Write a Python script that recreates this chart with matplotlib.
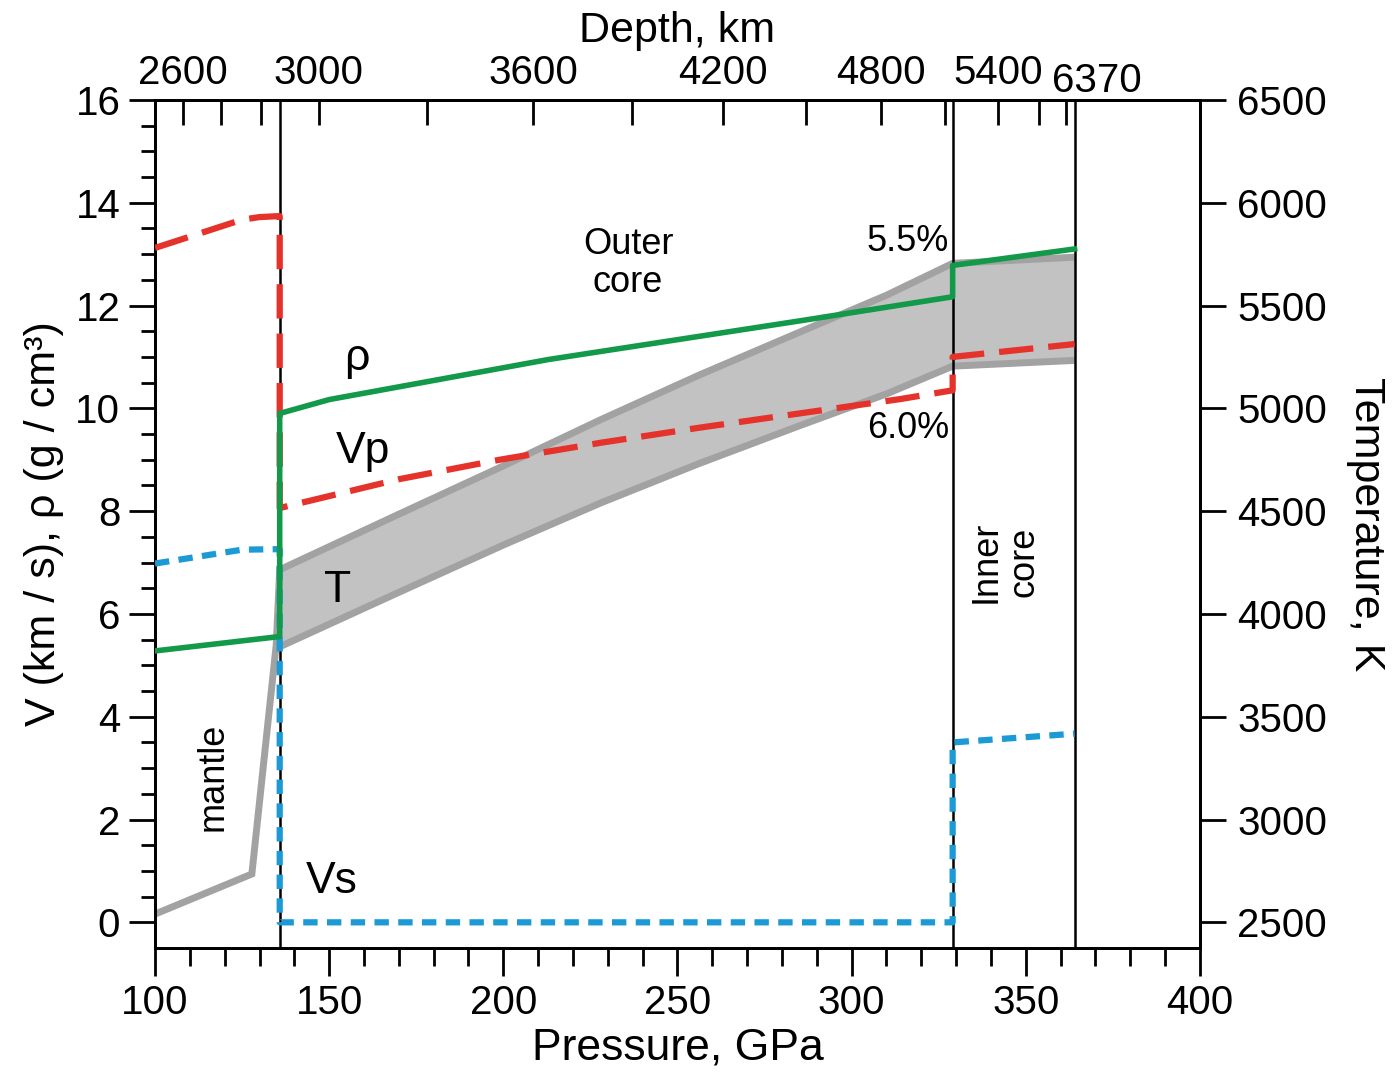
import matplotlib
matplotlib.use('Agg')
import matplotlib.pyplot as plt
import numpy as np

plt.rcParams['font.family'] = ['Liberation Sans', 'DejaVu Sans']

# boundaries, GPa
p_cmb = 135.8
p_icb = 329
p_center = 364

# Vp, km/s
vp_p = [100, 125, 130, p_cmb, p_cmb, 170, 199, 228, 256, 285, 314, p_icb, p_icb, p_center]
vp_v = [13.12, 13.67, 13.72, 13.74, 8.06, 8.62, 9.00, 9.33, 9.62, 9.90, 10.18, 10.35, 11.00, 11.25]

# Vs, km/s
vs_p = [100, 125, p_cmb, p_cmb, p_icb, p_icb, p_center]
vs_v = [6.98, 7.25, 7.26, 0.0, 0.0, 3.50, 3.67]

# density, g/cm3
rho_p = [100, p_cmb, p_cmb, 150, 213, 285, p_icb, p_icb, p_center]
rho_v = [5.28, 5.56, 9.90, 10.17, 10.95, 11.70, 12.17, 12.78, 13.10]

# temperature, K
t_mantle_p = [100, 127.8, 134.8, p_cmb]
t_mantle = [2540, 2735, 3850, 4215]
t_band_p = [p_cmb, 170, 200, 228, 256, 285, 310, p_icb, p_center]
t_hi = [4215, 4485, 4720, 4945, 5160, 5370, 5550, 5705, 5735]
t_lo = [3840, 4105, 4335, 4540, 4730, 4915, 5070, 5205, 5233]

# depth axis
depth_major_p = [108, 147, 208.5, 263, 308.4, 342]
depth_major_lab = ['2600', '3000', '3600', '4200', '4800', '5400']
depth_minor_p = [119, 130.4, 178, 237, 287, 326.8, 353.8, 361.6]

red = '#e5322b'
green = '#12994a'
blue = '#1b9ad6'
gray_edge = '#a2a2a2'
gray_fill = '#c2c2c2'

fig = plt.figure(figsize=(13.94, 10.8), dpi=100)
ax = fig.add_axes([0.1112, 0.1222, 0.7496, 0.7853])
ax2 = ax.twinx()
ax.set_zorder(ax2.get_zorder() + 1)
ax.patch.set_visible(False)

# temperature on right axis
ax2.fill_between(t_band_p, t_lo, t_hi, color=gray_fill, lw=0)
ax2.plot(t_band_p, t_hi, color=gray_edge, lw=5, solid_capstyle='butt')
ax2.plot(t_band_p, t_lo, color=gray_edge, lw=5, solid_capstyle='butt')
ax2.plot(t_mantle_p, t_mantle, color=gray_edge, lw=5, solid_joinstyle='miter')
ax2.set_ylim(2375, 6500)
ax2.set_yticks(np.arange(2500, 6501, 500))
ax2.tick_params(axis='y', direction='out', length=19, width=2, labelsize=29, pad=8)
ax2.set_ylabel('Temperature, K', fontsize=31, rotation=270, labelpad=42)

# boundaries
for p in [p_cmb, p_icb, p_center]:
    ax.axvline(p, color='black', lw=1.8, zorder=1)

ax.plot(vp_p, vp_v, color=red, lw=4.5, dashes=(5.5, 2.4), zorder=3)
ax.plot(vs_p, vs_v, color=blue, lw=4.5, dashes=(2.3, 1.5), zorder=3)
ax.plot(rho_p, rho_v, color=green, lw=4, zorder=4)

ax.set_xlim(100, 400)
ax.set_ylim(-0.5, 16)
ax.set_xticks(np.arange(100, 401, 50))
ax.set_xticks(np.arange(100, 401, 10), minor=True)
ax.set_yticks(np.arange(0, 17, 2))
ax.set_yticks(np.arange(0, 16.1, 0.5), minor=True)
ax.tick_params(axis='both', which='major', direction='out', width=2, labelsize=29)
ax.tick_params(axis='x', which='major', length=20, pad=6)
ax.tick_params(axis='y', which='major', length=19, pad=6)
ax.tick_params(axis='x', which='minor', direction='out', length=13, width=2)
ax.tick_params(axis='y', which='minor', direction='out', length=10, width=2)
ax.set_xlabel('Pressure, GPa', fontsize=32, labelpad=4)
ax.set_ylabel('V (km / s), ρ (g / cm³)', fontsize=31, labelpad=8)

for a in (ax, ax2):
    for s in a.spines.values():
        s.set_linewidth(2)

top = ax.secondary_xaxis('top')
top.set_xticks(depth_major_p)
top.set_xticklabels(depth_major_lab)
top.set_xticks(depth_minor_p, minor=True)
top.tick_params(axis='x', which='both', direction='in', length=18, width=2, labelsize=29, pad=6)
top.spines['top'].set_linewidth(2)
top.set_xlabel('Depth, km', fontsize=31, labelpad=8)
ax.text(370.5, 1.0, '6370', transform=ax.get_xaxis_transform(), fontsize=29,
        ha='center', va='bottom')

# labels
ax.text(158, 10.97, 'ρ', fontsize=32, ha='center', va='center')
ax.text(159.7, 9.16, 'Vp', fontsize=32, ha='center', va='center')
ax.text(152.5, 6.45, 'T', fontsize=32, ha='center', va='center')
ax.text(150.8, 0.80, 'Vs', fontsize=32, ha='center', va='center')
ax.text(235.8, 12.82, 'Outer\ncore', fontsize=26, ha='center', va='center', linespacing=1.1)
ax.text(316.2, 13.25, '5.5%', fontsize=26, ha='center', va='center')
ax.text(316.2, 9.61, '6.0%', fontsize=26, ha='center', va='center')
ax.text(116.7, 2.83, 'mantle', fontsize=26, ha='center', va='center', rotation=90)
ax.text(344, 7.02, 'Inner\ncore', fontsize=26, ha='center', va='center', rotation=90,
        linespacing=1.1)

fig.savefig('out.png', dpi=100)
